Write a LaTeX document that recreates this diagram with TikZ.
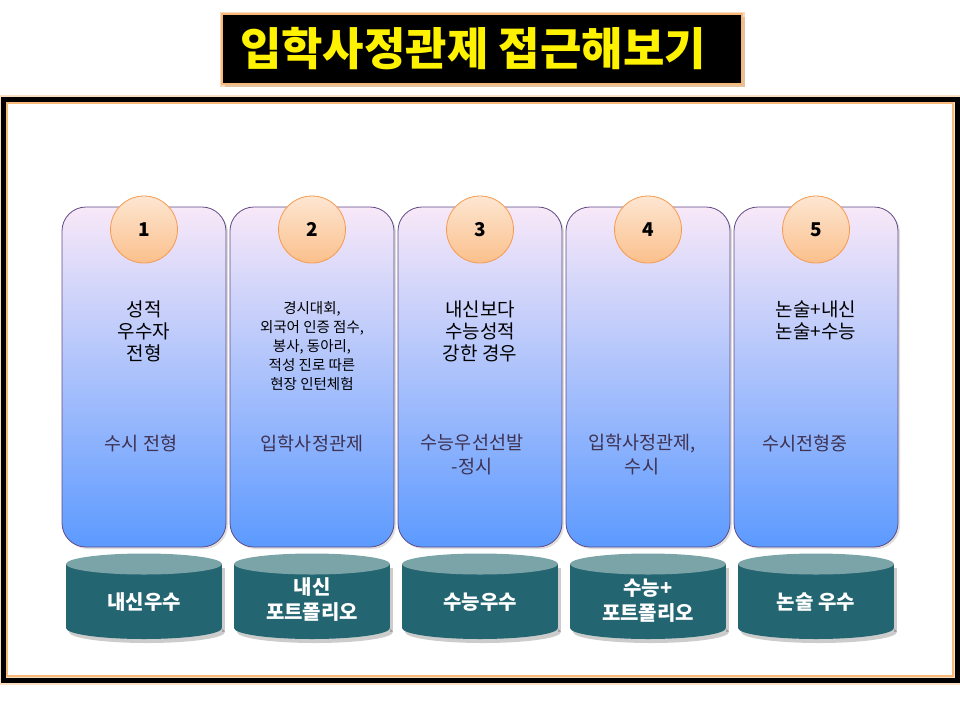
\documentclass[tikz,border=0pt]{standalone}
\usepackage{fontspec}
\newfontfamily\kr{Noto Sans CJK KR}
\usetikzlibrary{shadows}
\definecolor{panelTop}{HTML}{F8E8F8}
\definecolor{panelMid}{HTML}{90C6FA}
\definecolor{panelBot}{HTML}{5C9AFF}
\definecolor{panelLine}{HTML}{604A86}
\definecolor{numTop}{HTML}{FDE6D2}
\definecolor{numBot}{HTML}{FBC08C}
\definecolor{numLine}{HTML}{F79A4E}
\definecolor{cylBody}{HTML}{236570}
\definecolor{cylTop}{HTML}{7BA4A8}
\definecolor{lowText}{HTML}{3F3151}
\definecolor{glow}{HTML}{F6B97A}

\begin{document}
\begin{tikzpicture}[
    x=1pt,y=-1pt,
    panel/.style={draw=panelLine,line width=.8pt,rounded corners=24pt,minimum width=164pt,minimum height=340pt,
      top color=panelTop,middle color=panelMid,bottom color=panelBot,
      drop shadow={shadow xshift=2pt,shadow yshift=-2pt,opacity=.25}},
    num/.style={circle,draw=numLine,line width=.8pt,minimum size=67pt,inner sep=0pt,
      top color=numTop,bottom color=numBot,font=\kr\bfseries\fontsize{19}{19}\selectfont},
    up/.style={align=center,font=\kr\fontsize{19}{22}\selectfont},
    upsmall/.style={align=center,font=\kr\fontsize{14.5}{19}\selectfont},
    low/.style={align=center,text=lowText,font=\kr\fontsize{18.5}{24.5}\selectfont},
    cyltext/.style={align=center,text=white,font=\kr\bfseries\fontsize{20}{25}\selectfont}
  ]
  \useasboundingbox (0,0) rectangle (960,720);
  % title
  \fill[black!20] (225,17) rectangle (745,87);
  \draw[glow,line width=5pt,opacity=.5] (222,14) rectangle (742,84);
  \node[fill=black,draw=glow,line width=1.2pt,minimum width=520pt,minimum height=70pt,inner sep=0pt,
    text=yellow,font=\kr\bfseries\fontsize{45}{45}\selectfont] (title) at (482,49) {\hspace*{-18pt}입학사정관제 접근해보기};
  % frame
  \draw[glow,line width=9pt,opacity=.45] (3,99) rectangle (957,680);
  \draw[black,line width=5pt] (3,99) rectangle (957,680);
  \draw[glow,line width=1.5pt] (7,103) rectangle (953,676);
  % panels, numbers and cylinders
  \foreach \i/\cx in {1/144,2/312,3/480,4/648,5/816}{
    \node[panel] (p\i) at (\cx,377) {};
    \node[num] (n\i) at (\cx,229.5) {\i};
    \fill[black,opacity=.2] (\cx+3,632) ellipse (78 and 11);
    \fill[black,opacity=.2] (\cx+78,568) rectangle (\cx+81,632);
    \fill[cylBody] (\cx,628) ellipse (78 and 11);
    \fill[cylBody] (\cx-78,564) rectangle (\cx+78,628);
    \fill[cylTop] (\cx,564) ellipse (78 and 10.5);
  }
  % upper texts
  \node[up] (t1) at (144,331) {성적\\우수자\\전형};
  \node[upsmall] (t2) at (312,346) {경시대회,\\외국어 인증 점수,\\봉사, 동아리,\\적성 진로 따른\\현장 인턴체험};
  \node[up] (t3) at (480,331) {내신보다\\수능성적\\강한 경우};
  \node[up] (t5) at (816,320.5) {논술+내신\\논술+수능};
  % lower texts
  \node[low] (b1) at (141,443) {수시 전형};
  \node[low] (b2) at (312,444) {입학사정관제};
  \node[low] (b3) at (472,454.5) {수능우선선발\\-정시};
  \node[low] (b4) at (642,454.5) {입학사정관제,\\수시};
  \node[low] (b5) at (805,443) {수시전형중};
  % cylinder texts
  \node[cyltext] (c1) at (144,602) {내신우수};
  \node[cyltext] (c2) at (312,600) {내신\\포트폴리오};
  \node[cyltext] (c3) at (480,602) {수능우수};
  \node[cyltext] (c4) at (648,601) {수능+\\포트폴리오};
  \node[cyltext] (c5) at (816,602) {논술 우수};
\end{tikzpicture}
\end{document}
